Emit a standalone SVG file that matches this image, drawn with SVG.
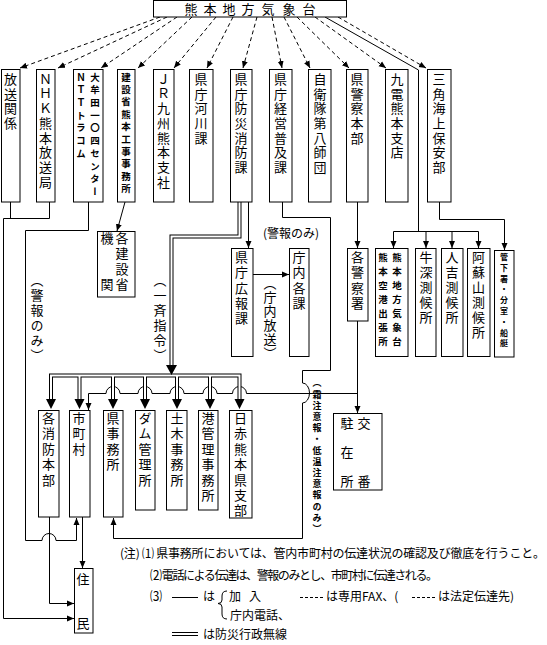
<svg xmlns="http://www.w3.org/2000/svg" width="547" height="645" viewBox="0 0 547 645">
<defs>
<style>
.bx{fill:#fff;stroke:#000;stroke-width:1}
text{font-family:"Noto Sans CJK JP","Noto Sans CJK SC",sans-serif;fill:#000}
.v{writing-mode:vertical-rl;font-size:13px;letter-spacing:1.7px}
.v2{writing-mode:vertical-rl;font-size:13px;letter-spacing:2.3px}
.v3{writing-mode:vertical-rl;font-size:13px;letter-spacing:2.4px}
.s{writing-mode:vertical-rl;font-size:9.5px;font-weight:bold}
.lb{writing-mode:vertical-rl;font-size:13px;letter-spacing:2px}
.n{font-size:12px}
.ln{fill:none;stroke:#000;stroke-width:1}
.ds{stroke-dasharray:4 3}
.dbo{fill:none;stroke:#000;stroke-width:4}
.dbi{fill:none;stroke:#fff;stroke-width:2}
</style>
<marker id="ar" markerUnits="userSpaceOnUse" markerWidth="9" markerHeight="9" refX="7" refY="4" orient="auto"><path d="M0,1 L7,4 L0,7 z" fill="#000"/></marker>
</defs>
<rect width="547" height="645" fill="#fff"/>

<g id="connectors">
<g class="ln ds" marker-end="url(#ar)">
<path d="M160,17 L20,68"/>
<path d="M167,17 L58,68"/>
<path d="M177,17 L101,68"/>
<path d="M192,17 L138,68"/>
<path d="M216,17 L174,68"/>
<path d="M233,17 L207,68"/>
<path d="M257,17 L243,68"/>
<path d="M272,17 L282,68"/>
<path d="M284,17 L310,68"/>
<path d="M297,17 L349,68"/>
<path d="M315,17 L386,68"/>
<path d="M338,17 L426,68"/>
</g>
<path class="ln" d="M325,17 L418.5,70 V231.5"/>
<path class="ln" d="M393.5,231.5 H478.5"/>
<g class="ln" marker-end="url(#ar)">
<path d="M393.5,231.5 V248"/>
<path d="M426,231.5 V248"/>
<path d="M452,231.5 V248"/>
<path d="M478.5,231.5 V248"/>
<path d="M439.5,202 V219.5 H504.5 V250"/>
<path d="M357.5,202 V248"/>
<path d="M357.5,321 V413"/>
<path d="M125,202 L117,231"/>
<path d="M248.5,202 V248"/>
<path d="M253,274.5 H289"/>
<path d="M49.5,202 V218.5 H3.5 V618.5 H74"/>
<path d="M88.5,202 V230.5 H25.5 V540.5 H42 A7,7 0 0 1 56,540.5 H76.5 V518"/>
<path d="M49.5,517 V603.5 H74"/>
<path d="M82.5,517 V568"/>
<path d="M282.5,202 V217.5 H330.5 V370.5 H302.5 V383 A7,10 0 0 1 302.5,403 V538.5 H113.5 V518"/>
<path d="M357.5,393.5 H246.5 A7,7 0 0 0 232.5,393.5 H217 A7,7 0 0 0 203,393.5 H184 A7,7 0 0 0 170,393.5 H152 A7,7 0 0 0 138,393.5 H120 A7,7 0 0 0 106,393.5 H88.5 V410"/>
</g>
<path class="ln" d="M10.5,202 V218.5"/>
<g id="musen">
<path class="dbo" d="M239.5,202 V236.5 H171.5 V366"/>
<path class="dbo" d="M51,400 V375.5 H239.5 V400 M79.5,375.5 V400 M113,375.5 V400 M145,375.5 V400 M177,375.5 V400 M210,375.5 V400"/>
<path class="dbi" d="M239.5,202 V236.5 H171.5 V366"/>
<path class="dbi" d="M51,400 V375.5 H239.5 V400 M79.5,375.5 V400 M113,375.5 V400 M145,375.5 V400 M177,375.5 V400 M210,375.5 V400"/>
<path d="M166,365 H177 L171.5,375 Z M46,399 H56 L51,409 Z M74.5,399 H84.5 L79.5,409 Z M108,399 H118 L113,409 Z M140,399 H150 L145,409 Z M172,399 H182 L177,409 Z M205,399 H215 L210,409 Z M234.5,399 H244.5 L239.5,409 Z" fill="#000"/>
</g>
<text class="lb" x="37" y="273.5">（警報のみ）</text>
<text class="lb" x="160" y="273.5">（一斉指令）</text>
<text class="lb" x="270" y="276.5" style="letter-spacing:1px">（庁内放送）</text>
<text class="n" x="263" y="237.5">(警報のみ)</text>
<text x="317" y="378.5" style="writing-mode:vertical-rl;font-size:9px;font-weight:bold;letter-spacing:2.2px">（霜注意報・低温注意報のみ）</text>
</g>

<g id="kishodai">
<rect class="bx" x="153.5" y="0.5" width="193" height="16.5"/>
<text x="191 200 210 219 229 238 248 258 268 278 289 299 309" y="13.5" style="font-size:13px" text-anchor="middle">熊 本 地 方 気 象 台</text>
</g>

<g id="hoso"><rect class="bx" x="1.5" y="69.5" width="18.5" height="132.5"/><text class="v" x="10.5" y="72.5">放送関係</text></g>
<g id="nhk"><rect class="bx" x="36.5" y="69.5" width="18.5" height="132.5"/><text class="v" x="45.5" y="72.5">ＮＨＫ熊本放送局</text></g>
<g id="ntt"><rect class="bx" x="73.5" y="69.5" width="29.5" height="132.5"/><text class="s" x="95" y="72.3" style="letter-spacing:3.2px">大牟田一〇四センター</text><text class="s" x="81" y="72.3" style="letter-spacing:3.2px">ＮＴＴトラコム</text></g>
<g id="kensetsu"><rect class="bx" x="117.5" y="69.5" width="17.5" height="132.5"/><text class="s" x="126" y="72.3" style="letter-spacing:2.9px">建設省熊本工事事務所</text></g>
<g id="jr"><rect class="bx" x="153.5" y="69.5" width="20.5" height="132.5"/><text class="v" x="163.5" y="72.5">ＪＲ九州熊本支社</text></g>
<g id="kasen"><rect class="bx" x="189.5" y="69.5" width="23.5" height="132.5"/><text class="v" x="201" y="72.5">県庁河川課</text></g>
<g id="bosai"><rect class="bx" x="230.5" y="69.5" width="21.5" height="132.5"/><text class="v" x="241" y="72.5">県庁防災消防課</text></g>
<g id="keiei"><rect class="bx" x="269.5" y="69.5" width="22.5" height="132.5"/><text class="v" x="280.5" y="72.5">県庁経営普及課</text></g>
<g id="jieitai"><rect class="bx" x="308.5" y="69.5" width="22.5" height="132.5"/><text class="v" x="320" y="72.5">自衛隊第八師団</text></g>
<g id="keisatsu"><rect class="bx" x="346.5" y="69.5" width="21.5" height="132.5"/><text class="v" x="357" y="72.5">県警察本部</text></g>
<g id="kyuden"><rect class="bx" x="385.5" y="69.5" width="22.5" height="132.5"/><text class="v" x="397" y="72.5">九電熊本支店</text></g>
<g id="misumi"><rect class="bx" x="427.5" y="69.5" width="23.5" height="132.5"/><text class="v" x="439" y="72.5">三角海上保安部</text></g>

<g id="kensetsukikan"><rect class="bx" x="97.5" y="231.5" width="37.5" height="65.5"/><text class="v2" x="122" y="231.5">各建設省</text><text class="v2" x="107" y="231.5">機　　関</text></g>
<g id="koho"><rect class="bx" x="231.5" y="248.5" width="21.5" height="108"/><text class="v2" x="241.5" y="250.5">県庁広報課</text></g>
<g id="chonai"><rect class="bx" x="289.5" y="248.5" width="19.5" height="108"/><text class="v2" x="299" y="250.5">庁内各課</text></g>
<g id="keisatsusho"><rect class="bx" x="347.5" y="248.5" width="20.5" height="72.5"/><text class="v2" x="357.5" y="250.5">各警察署</text></g>
<g id="kuko"><rect class="bx" x="375.5" y="248.5" width="32.5" height="108"/><text class="s" x="397" y="252.3" style="letter-spacing:4.5px">熊本地方気象台</text><text class="s" x="383" y="252.3" style="letter-spacing:4.5px">熊本空港出張所</text></g>
<g id="ushibuka"><rect class="bx" x="415.5" y="248.5" width="20.5" height="108"/><text class="v2" x="426" y="250.5" style="letter-spacing:2px">牛深測候所</text></g>
<g id="hitoyoshi"><rect class="bx" x="441.5" y="248.5" width="21.5" height="108"/><text class="v2" x="452" y="250.5" style="letter-spacing:2px">人吉測候所</text></g>
<g id="asosan"><rect class="bx" x="467.5" y="248.5" width="22.5" height="108"/><text class="v2" x="478.5" y="250.5" style="letter-spacing:2px">阿蘇山測候所</text></g>
<g id="kanka"><rect class="bx" x="494.5" y="250.5" width="19.5" height="106.5"/><text x="504" y="253" style="writing-mode:vertical-rl;font-size:8px;font-weight:bold;letter-spacing:2.8px">管下署・分室・船艇</text></g>
<g id="chuzai"><rect class="bx" x="333.5" y="413.5" width="48.5" height="76.5"/><text class="v" x="364" y="416.5" style="letter-spacing:16px">交　番</text><text class="v" x="347" y="416.5" style="letter-spacing:16px">駐在所</text></g>

<g id="shobo"><rect class="bx" x="38.5" y="410.5" width="20.5" height="106.5"/><text class="v3" x="48.5" y="411.5">各消防本部</text></g>
<g id="shichoson"><rect class="bx" x="69.5" y="410.5" width="20.5" height="106.5"/><text class="v3" x="79" y="411.5">市町村</text></g>
<g id="kenjimusho"><rect class="bx" x="103.5" y="410.5" width="19.5" height="106.5"/><text class="v3" x="113" y="411.5">県事務所</text></g>
<g id="dam"><rect class="bx" x="135.5" y="410.5" width="19.5" height="99.5"/><text class="v3" x="145" y="411.5">ダム管理所</text></g>
<g id="doboku"><rect class="bx" x="166.5" y="410.5" width="20.5" height="99.5"/><text class="v3" x="177" y="411.5">土木事務所</text></g>
<g id="minato"><rect class="bx" x="198.5" y="410.5" width="19.5" height="99.5"/><text class="v3" x="208" y="411.5">港管理事務所</text></g>
<g id="nisseki"><rect class="bx" x="229.5" y="410.5" width="22.5" height="107.5"/><text class="v3" x="240.5" y="411.5">日赤熊本県支部</text></g>
<g id="jumin"><rect class="bx" x="74.5" y="568.5" width="18.5" height="64.5"/><text class="v" x="83" y="572.5">住　　民</text></g>

<g id="notes">
<text class="n" x="120" y="557.5" textLength="425" lengthAdjust="spacing">(注) ⑴ 県事務所においては、管内市町村の伝達状況の確認及び徹底を行うこと。</text>
<text class="n" x="150" y="579.5" textLength="288" lengthAdjust="spacing">⑵ 電話による伝達は、警報のみとし、市町村に伝達される。</text>
<text class="n" x="150" y="601">⑶</text>
<path class="ln" d="M172,597.5 H198"/>
<text class="n" x="203" y="601">は</text>
<path class="ln" d="M227,591 Q222,591 222,596 V600 Q222,603.5 218,603.5 Q222,603.5 222,607 V614 Q222,619 227,619"/>
<text class="n" x="229 241 249" y="601">加 入</text>
<path class="ln" d="M300,597.5 H325" style="stroke-dasharray:3 2"/>
<text class="n" x="326" y="601">は専用FAX、(</text>
<path class="ln" d="M412,597.5 H437" style="stroke-dasharray:3 2"/>
<text class="n" x="438" y="601">は法定伝達先)</text>
<text class="n" x="230" y="620">庁内電話、</text>
<path class="ln" d="M172,632.5 H198 M172,635.5 H198"/>
<text class="n" x="203" y="638.5">は防災行政無線</text>
</g>
</svg>
